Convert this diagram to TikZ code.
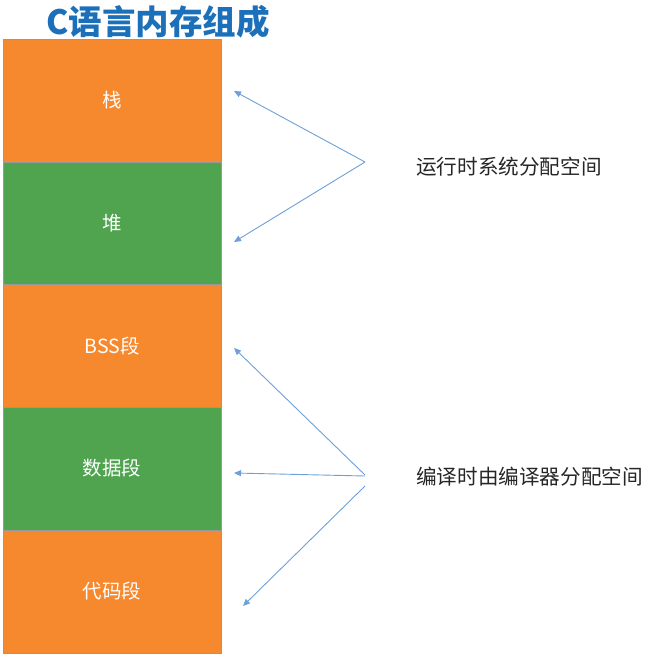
\documentclass[tikz,border=0pt]{standalone}
\usepackage{fontspec}
\setmainfont{Noto Sans CJK SC}
\newfontfamily\cjk{Noto Sans CJK SC}
\usetikzlibrary{arrows.meta}
\definecolor{segorange}{RGB}{246,136,46}
\definecolor{seggreen}{RGB}{80,164,80}
\definecolor{arrblue}{RGB}{110,160,215}
\definecolor{titleblue}{RGB}{28,112,186}
\tikzset{
  seg/.style={draw=gray!80, line width=0.8pt, minimum width=218pt, minimum height=123pt, inner sep=0pt, text=white, font=\cjk\fontsize{19.5}{20}\selectfont},
  lab/.style={anchor=west, inner sep=0pt, text=black!85, font=\cjk\fontsize{20.6}{21}\selectfont},
  arr/.style={draw=arrblue, line width=0.9pt, -{Triangle[length=7pt,width=6pt]}}
}
\begin{document}
\begin{tikzpicture}[x=1pt,y=-1pt]
\useasboundingbox (0,0) rectangle (661,671);
\node[inner sep=0pt, text=titleblue, font=\cjk\bfseries\fontsize{33.5}{34}\selectfont] (title) at (158,22) {C语言内存组成};
\node[seg, fill=segorange] (s1) at (112,100.5) {栈};
\node[seg, fill=seggreen] (s2) at (112,223.5) {堆};
\node[seg, fill=segorange] (s3) at (112,346) {BSS段};
\node[seg, fill=seggreen] (s4) at (112,468.5) {数据段};
\node[seg, fill=segorange] (s5) at (112,591.5) {代码段};
\coordinate (a1) at (365,162);
\coordinate (t1) at (234,91);
\coordinate (t2) at (234,242);
\coordinate (a2) at (365,475);
\coordinate (a3) at (365,476);
\coordinate (a4) at (365,486);
\coordinate (t3) at (234,348);
\coordinate (t4) at (234,473);
\coordinate (t5) at (243,606);
\node[lab] (l1) at (416,167) {运行时系统分配空间};
\node[lab] (l2) at (416,477) {编译时由编译器分配空间};
\draw[arr] (a1) -- (t1);
\draw[arr] (a1) -- (t2);
\draw[arr] (a2) -- (t3);
\draw[arr] (a3) -- (t4);
\draw[arr] (a4) -- (t5);
\end{tikzpicture}
\end{document}
